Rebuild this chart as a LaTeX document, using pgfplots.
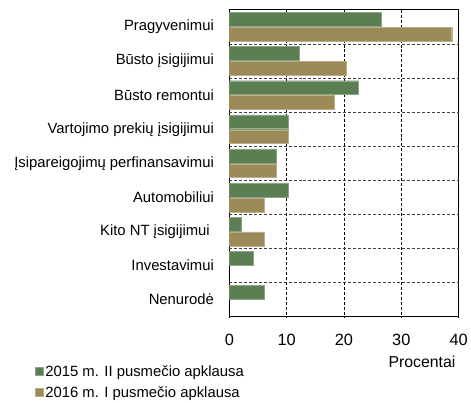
\documentclass[border=0pt]{standalone}
\usepackage{fontspec}
\setmainfont{Liberation Sans}
\usepackage{pgfplots}
\pgfplotsset{compat=1.18}
\definecolor{cgreen}{HTML}{5B7F53}
\definecolor{ctan}{HTML}{9C8A58}
\begin{document}
\begin{tikzpicture}
\path (0,0) rectangle (471bp,405bp);
\begin{axis}[
  at={(231bp,86bp)}, anchor=south west,
  scale only axis, width=231bp, height=309bp,
  xbar=1bp, bar width=14bp,
  xmin=0, xmax=40,
  ymin=-0.5, ymax=8.5, y dir=reverse,
  xtick={0,10,20,30,40},
  ytick={0,...,8},
  extra y ticks={0.5,1.5,...,7.5},
  extra y tick labels={},
  extra y tick style={ymajorgrids=true, major grid style={black!75, densely dashed, line width=0.6bp}},
  yticklabels={Pragyvenimui,Būsto įsigijimui,Būsto remontui,Vartojimo prekių įsigijimui,Įsipareigojimų perfinansavimui,Automobiliui,Kito NT įsigijimui\phantom{ },Investavimui,Nenurodė},
  xmajorgrids=true,
  ymajorgrids=false,
  major grid style={black, densely dashed, line width=0.6bp},
  axis line style={black, line width=0.9bp},
  major tick length=0pt,
  /pgf/number format/assume math mode=true,
  ticklabel style={font=\fontsize{15}{18}\selectfont},
  xticklabel style={font=\fontsize{16.5}{18}\selectfont, yshift=-14bp},
  yticklabel style={xshift=-12bp},
  xlabel={Procentai},
  xlabel style={at={(axis description cs:0.84,-0.146)}, anchor=center, font=\fontsize{16}{18}\selectfont},
  legend style={at={(axis description cs:-0.848,-0.213)}, anchor=west, draw=none, fill=none, inner xsep=0pt, inner ysep=0pt, font=\fontsize{15}{18}\selectfont, row sep=5bp, cells={anchor=west}},
  legend image code/.code={\fill[#1] (0bp,-4bp) rectangle (8bp,4bp);},
  legend cell align=left,
]
\addplot[fill=cgreen, draw=cgreen!70!white, line width=0.4bp, bar shift=7.5bp] coordinates {
(26.5,0) (12.2,1) (22.5,2) (10.2,3) (8.1,4) (10.2,5) (2.0,6) (4.1,7) (6.1,8)};
\addplot[fill=ctan, draw=ctan!70!white, line width=0.4bp, bar shift=-7.5bp] coordinates {
(38.8,0) (20.4,1) (18.3,2) (10.2,3) (8.1,4) (6.1,5) (6.1,6)};
\legend{2015 m. II pusmečio apklausa, 2016 m. I pusmečio apklausa}
\end{axis}
\end{tikzpicture}
\end{document}
